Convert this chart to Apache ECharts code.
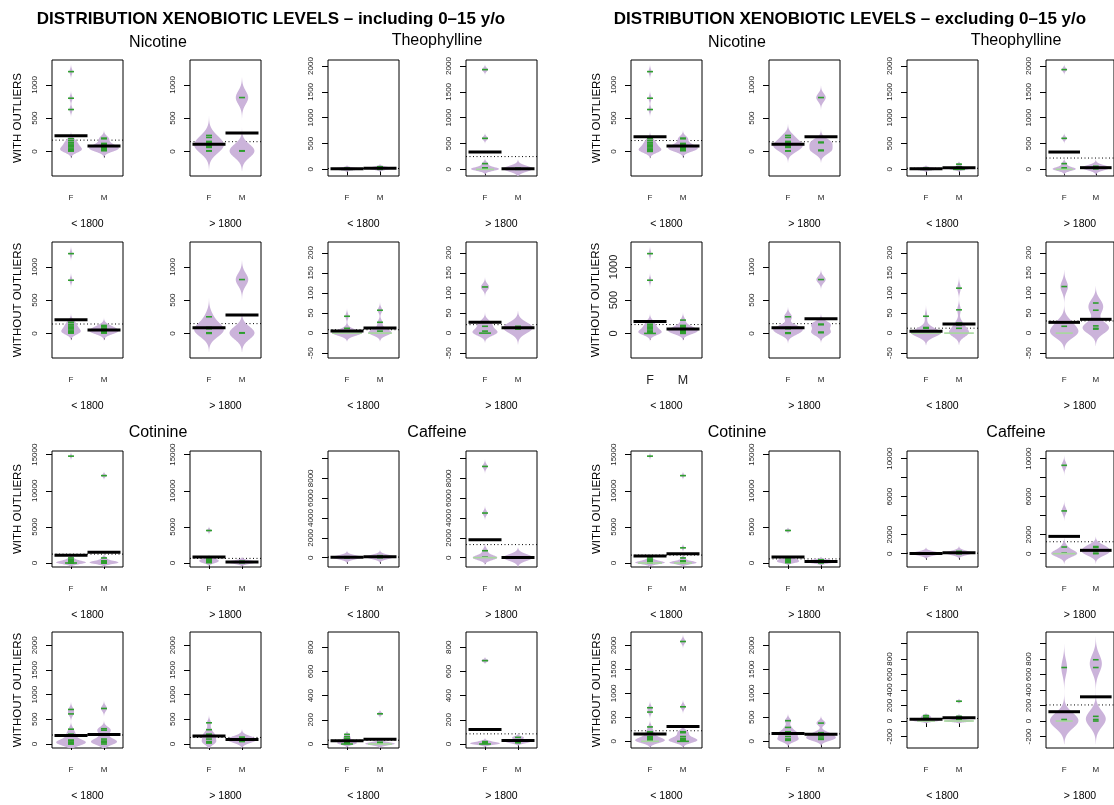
<!DOCTYPE html>
<html><head><meta charset="utf-8">
<script src="https://cdn.jsdelivr.net/npm/echarts@6/dist/echarts.min.js"></script>
<style>html,body{margin:0;padding:0;background:#fff}#c{width:1114px;height:805px}</style>
</head><body><div id="c"></div>
<script>
// ---------- categories / labels ----------
const groups = ['F', 'M'];
const timeLabels = ['< 1800', '> 1800'];
const drugTitles = ['Nicotine', 'Theophylline', 'Cotinine', 'Caffeine'];
const mainTitles = ['DISTRIBUTION XENOBIOTIC LEVELS \u2013 including 0\u201315 y/o', 'DISTRIBUTION XENOBIOTIC LEVELS \u2013 excluding 0\u201315 y/o'];
const rowNames = ['WITH OUTLIERS', 'WITHOUT OUTLIERS', 'WITH OUTLIERS', 'WITHOUT OUTLIERS'];

// ---------- tick values ----------
const ticksNic = [0, 500, 1000];
const ticksThe = [0, 500, 1000, 1500, 2000];
const ticksTheSmall = [-50, 0, 50, 100, 150, 200];
const ticksCot = [0, 5000, 10000, 15000];
const ticksCaf = [0, 2000, 4000, 6000, 8000, 10000];
const labelsCafInc = [0, 2000, 4000, 6000, 8000];
const labelsCafExc = [0, 2000, 6000, 10000];
const ticksCotWo = [0, 500, 1000, 1500, 2000];
const ticksCafWoInc = [0, 200, 400, 600, 800];
const ticksCafWoExc = [-200, 0, 200, 400, 600, 800, 1000];
const labelsCafWoExc = [-200, 0, 200, 400, 600, 800];

// ---------- data: including 0-15 y/o ----------
const inc_nic_with_lt_F = [1200, 800, 630, 190, 160, 130, 110, 90, 70, 50, 30, 20, 15, 10, 5];
const inc_nic_with_lt_M = [200, 190, 120, 100, 80, 60, 50, 40, 30, 20, 10];
const inc_nic_with_gt_F = [240, 210, 150, 130, 100, 90, 80, 60, 10, 5];
const inc_nic_with_gt_M = [810, 10, 5];
const inc_the_with_lt_F = [25, 15, 10, 5, 0, 0];
const inc_the_with_lt_M = [50, 40, 30, 20, 10, 5, 0];
const inc_the_with_gt_F = [1930, 600, 110, 30, 10, 0, 0, 0];
const inc_the_with_gt_M = [25, 10, 0];
const inc_nic_wo_lt_F = [1200, 800, 190, 160, 130, 110, 90, 70, 50, 30, 20, 15, 10, 5];
const inc_nic_wo_lt_M = [120, 100, 80, 60, 50, 40, 30, 20, 10, 5];
const inc_nic_wo_gt_F = [250, 90, 80, 70, 10, 0];
const inc_nic_wo_gt_M = [810, 10, 5];
const inc_the_wo_lt_F = [42, 12, 5, 0, 0, 0, 0, 0, 0, 0, 0];
const inc_the_wo_lt_M = [57, 27, 12, 5, 0, 0, 0, 0];
const inc_the_wo_gt_F = [115, 27, 17, 5, 0, 0];
const inc_the_wo_gt_M = [17, 15, 13, 12, 10];
const inc_cot_with_lt_F = [14800, 700, 500, 400, 300, 200, 150, 100, 50, 30, 20, 15, 10, 5, 0, 0];
const inc_cot_with_lt_M = [12100, 700, 300, 200, 100, 50, 20, 10, 0];
const inc_cot_with_gt_F = [4500, 600, 500, 400, 300, 200, 100, 50];
const inc_cot_with_gt_M = [250, 100, 30];
const inc_caf_with_lt_F = [100, 60, 30, 10, 0];
const inc_caf_with_lt_M = [200, 120, 60, 30, 0];
const inc_caf_with_gt_F = [9200, 4500, 700, 50, 0, 0, 0, 0];
const inc_caf_with_gt_M = [40, 10, 0];
const inc_cot_wo_lt_F = [700, 610, 300, 200, 180, 80, 70, 60, 30, 20, 10, 5, 0];
const inc_cot_wo_lt_M = [720, 310, 280, 200, 100, 60, 50, 30, 0];
const inc_cot_wo_gt_F = [430, 290, 200, 180, 150, 100, 50, 30, 20];
const inc_cot_wo_gt_M = [140, 120, 100, 80, 60, 50];
const inc_caf_wo_lt_F = [80, 60, 45, 30, 20, 15, 10, 5, 0, 0];
const inc_caf_wo_lt_M = [250, 15, 5, 0, 0, 0, 0];
const inc_caf_wo_gt_F = [690, 20, 10, 5, 0, 0];
const inc_caf_wo_gt_M = [55, 30, 20, 10];

// ---------- data: excluding 0-15 y/o ----------
const exc_nic_with_lt_F = [1200, 800, 630, 190, 160, 130, 110, 90, 70, 50, 30, 20, 15, 10, 5, 0];
const exc_nic_with_lt_M = [200, 190, 120, 100, 80, 60, 50, 40, 30, 20, 10];
const exc_nic_with_gt_F = [240, 210, 150, 130, 100, 90, 80, 60, 10, 5];
const exc_nic_with_gt_M = [810, 140, 130, 20, 10];
const exc_the_with_lt_F = [25, 15, 10, 5, 0, 0];
const exc_the_with_lt_M = [100, 50, 30, 20, 10, 0, 0];
const exc_the_with_gt_F = [1930, 600, 110, 30, 10, 0, 0, 0];
const exc_the_with_gt_M = [60, 40, 30, 20, 10];
const exc_nic_wo_lt_F = [1200, 800, 190, 160, 130, 110, 90, 70, 50, 30, 20, 15, 10, 5, 0, 0];
const exc_nic_wo_lt_M = [200, 120, 100, 80, 60, 50, 40, 30, 20, 10, 0];
const exc_nic_wo_gt_F = [250, 90, 80, 70, 10, 0];
const exc_nic_wo_gt_M = [810, 140, 130, 20, 10];
const exc_the_wo_lt_F = [42, 14, 12, 0, 0, 0, 0, 0, 0, 0, 0, 0, 0, 0];
const exc_the_wo_lt_M = [112, 58, 25, 20, 12, 0, 0, 0, 0, 0];
const exc_the_wo_gt_F = [116, 28, 17, 0, 0, 0];
const exc_the_wo_gt_M = [75, 57, 18, 12, 10];
const exc_cot_with_lt_F = [14800, 700, 500, 400, 300, 200, 150, 100, 50, 30, 20, 15, 10, 5, 0, 0, 0, 0];
const exc_cot_with_lt_M = [12100, 2100, 700, 300, 200, 100, 50, 20, 10, 0, 0, 0];
const exc_cot_with_gt_F = [4500, 600, 500, 400, 300, 200, 100, 50];
const exc_cot_with_gt_M = [450, 350, 250, 150, 50, 20];
const exc_caf_with_lt_F = [60, 30, 10, 0, 0];
const exc_caf_with_lt_M = [250, 100, 50, 20, 0];
const exc_caf_with_gt_F = [9300, 4500, 700, 50, 0, 0, 0, 0];
const exc_caf_with_gt_M = [750, 650, 300, 50, 0];
const exc_cot_wo_lt_F = [700, 610, 300, 200, 180, 100, 80, 60, 40, 20, 10, 5, 0, 0, 0];
const exc_cot_wo_lt_M = [2080, 720, 200, 180, 100, 60, 40, 20, 10, 0, 0];
const exc_cot_wo_gt_F = [430, 290, 200, 180, 150, 100, 50, 30, 20];
const exc_cot_wo_gt_M = [380, 180, 130, 90, 50, 40];
const exc_caf_wo_lt_F = [70, 50, 30, 20, 10, 0, 0, 0];
const exc_caf_wo_lt_M = [255, 60, 40, 20, 0, 0, 0, 0, 0];
const exc_caf_wo_gt_F = [690, 20, 10, 0, 0, 0];
const exc_caf_wo_gt_M = [790, 690, 60, 20, 0];

// ---------- layout / style ----------
const FONT = '"Liberation Sans", Arial, Helvetica, sans-serif';
const colLeft = [52, 190, 328, 466, 631, 769, 907, 1046];
const rowTop = [60, 242, 451, 632];
const BOX_W = 71, BOX_H = 116;
const X_MIN = 0.424, X_MAX = 2.576;
const VIOLIN = '#cbb3da';
const GREEN = '#2e9e2e';
const PALE = '#a6d99c';
const LL = 0.18, MAXHALF = 0.45;

// panel definitions (c = column 0..7, r = row 0..3); bw = smoothing bandwidth per bean (style)
const Y_NIC = [-370, 1375], Y_THE = [-129, 2116], Y_THES = [-62, 227], Y_COT = [-554, 15512];
const panels = [
  {c:0,r:0,F:inc_nic_with_lt_F,M:inc_nic_with_lt_M,y:Y_NIC,t:ticksNic,bw:[40,40]},
  {c:1,r:0,F:inc_nic_with_gt_F,M:inc_nic_with_gt_M,y:Y_NIC,t:ticksNic,bw:[100,100]},
  {c:2,r:0,F:inc_the_with_lt_F,M:inc_the_with_lt_M,y:Y_THE,t:ticksThe,bw:[20,20]},
  {c:3,r:0,F:inc_the_with_gt_F,M:inc_the_with_gt_M,y:Y_THE,t:ticksThe,bw:[35,55]},
  {c:0,r:1,F:inc_nic_wo_lt_F,M:inc_nic_wo_lt_M,y:Y_NIC,t:ticksNic,bw:[40,40]},
  {c:1,r:1,F:inc_nic_wo_gt_F,M:inc_nic_wo_gt_M,y:Y_NIC,t:ticksNic,bw:[95,95]},
  {c:2,r:1,F:inc_the_wo_lt_F,M:inc_the_wo_lt_M,y:Y_THES,t:ticksTheSmall,bw:[7,7]},
  {c:3,r:1,F:inc_the_wo_gt_F,M:inc_the_wo_gt_M,y:Y_THES,t:ticksTheSmall,bw:[8,13]},
  {c:0,r:2,F:inc_cot_with_lt_F,M:inc_cot_with_lt_M,y:Y_COT,t:ticksCot,bw:[200,200]},
  {c:1,r:2,F:inc_cot_with_gt_F,M:inc_cot_with_gt_M,y:Y_COT,t:ticksCot,bw:[200,200]},
  {c:2,r:2,F:inc_caf_with_lt_F,M:inc_caf_with_lt_M,y:[-941,10756],t:ticksCaf,l:labelsCafInc,bw:[200,200]},
  {c:3,r:2,F:inc_caf_with_gt_F,M:inc_caf_with_gt_M,y:[-941,10756],t:ticksCaf,l:labelsCafInc,bw:[250,330]},
  {c:0,r:3,F:inc_cot_wo_lt_F,M:inc_cot_wo_lt_M,y:[-81,2270],t:ticksCotWo,bw:[55,55]},
  {c:1,r:3,F:inc_cot_wo_gt_F,M:inc_cot_wo_gt_M,y:[-81,2270],t:ticksCotWo,bw:[55,55]},
  {c:2,r:3,F:inc_caf_wo_lt_F,M:inc_caf_wo_lt_M,y:[-33,927],t:ticksCafWoInc,bw:[12,12]},
  {c:3,r:3,F:inc_caf_wo_gt_F,M:inc_caf_wo_gt_M,y:[-33,927],t:ticksCafWoInc,bw:[10,10]},

  {c:4,r:0,F:exc_nic_with_lt_F,M:exc_nic_with_lt_M,y:Y_NIC,t:ticksNic,bw:[40,40]},
  {c:5,r:0,F:exc_nic_with_gt_F,M:exc_nic_with_gt_M,y:Y_NIC,t:ticksNic,bw:[60,60]},
  {c:6,r:0,F:exc_the_with_lt_F,M:exc_the_with_lt_M,y:Y_THE,t:ticksThe,bw:[20,20]},
  {c:7,r:0,F:exc_the_with_gt_F,M:exc_the_with_gt_M,y:Y_THE,t:ticksThe,bw:[35,45]},
  {c:4,r:1,F:exc_nic_wo_lt_F,M:exc_nic_wo_lt_M,y:Y_NIC,t:ticksNic,bw:[40,40],big:true},
  {c:5,r:1,F:exc_nic_wo_gt_F,M:exc_nic_wo_gt_M,y:Y_NIC,t:ticksNic,bw:[50,50]},
  {c:6,r:1,F:exc_the_wo_lt_F,M:exc_the_wo_lt_M,y:Y_THES,t:ticksTheSmall,bw:[10,10]},
  {c:7,r:1,F:exc_the_wo_gt_F,M:exc_the_wo_gt_M,y:Y_THES,t:ticksTheSmall,bw:[14,14]},
  {c:4,r:2,F:exc_cot_with_lt_F,M:exc_cot_with_lt_M,y:Y_COT,t:ticksCot,bw:[200,200]},
  {c:5,r:2,F:exc_cot_with_gt_F,M:exc_cot_with_gt_M,y:Y_COT,t:ticksCot,bw:[150,150]},
  {c:6,r:2,F:exc_caf_with_lt_F,M:exc_caf_with_lt_M,y:[-1404,10807],t:ticksCaf,l:labelsCafExc,bw:[200,200]},
  {c:7,r:2,F:exc_caf_with_gt_F,M:exc_caf_with_gt_M,y:[-1404,10807],t:ticksCaf,l:labelsCafExc,bw:[350,350]},
  {c:4,r:3,F:exc_cot_wo_lt_F,M:exc_cot_wo_lt_M,y:[-139,2278],t:ticksCotWo,bw:[50,50]},
  {c:5,r:3,F:exc_cot_wo_gt_F,M:exc_cot_wo_gt_M,y:[-139,2278],t:ticksCotWo,bw:[50,50]},
  {c:6,r:3,F:exc_caf_wo_lt_F,M:exc_caf_wo_lt_M,y:[-348,1148],t:ticksCafWoExc,l:labelsCafWoExc,bw:[12,12]},
  {c:7,r:3,F:exc_caf_wo_gt_F,M:exc_caf_wo_gt_M,y:[-348,1148],t:ticksCafWoExc,l:labelsCafWoExc,bw:[100,100]}
];

// ---------- bean statistics ----------
function kde(vals, bw) {
  const lo = Math.min(...vals) - 3 * bw, hi = Math.max(...vals) + 3 * bw, n = 320;
  const out = [];
  for (let i = 0; i <= n; i++) {
    const y = lo + (hi - lo) * i / n;
    let s = 0;
    for (const v of vals) s += Math.exp(-0.5 * ((y - v) / bw) ** 2);
    out.push([y, s / (vals.length * bw * Math.sqrt(2 * Math.PI))]);
  }
  return out;
}
function counts(vals) {
  const m = new Map();
  for (const v of vals) m.set(v, (m.get(v) || 0) + 1);
  return [...m.entries()];
}
const mean = a => a.reduce((s, v) => s + v, 0) / a.length;

panels.forEach(p => {
  p.beans = [p.F, p.M].map((vals, g) => ({ dens: kde(vals, p.bw[g]), counts: counts(vals), mean: mean(vals) }));
  p.overall = mean(p.F.concat(p.M));
  const maxD = Math.max(...p.beans.map(b => Math.max(...b.dens.map(d => d[1]))));
  p.scale = MAXHALF / maxD;
});

function makeRender(p) {
  return function (params, api) {
    const i = params.dataIndex;
    const ch = [];
    const seg = (x1, y1, x2, y2) => { const a = api.coord([x1, y1]), b = api.coord([x2, y2]); return {x1:a[0], y1:a[1], x2:b[0], y2:b[1]}; };
    if (i === 0) {
      ch.push({type:'line', shape: seg(X_MIN, p.overall, X_MAX, p.overall), style:{stroke:'#000', lineWidth:1, lineDash:[1,2.5]}});
      return {type:'group', children: ch};
    }
    const g = i - 1, xc = g + 1, bean = p.beans[g];
    const pts = [];
    for (const [y, d] of bean.dens) pts.push(api.coord([xc + d * p.scale, y]));
    for (let k = bean.dens.length - 1; k >= 0; k--) { const [y, d] = bean.dens[k]; pts.push(api.coord([xc - d * p.scale, y])); }
    ch.push({type:'polygon', shape:{points: pts}, style:{fill: VIOLIN}});
    for (const [v, c] of bean.counts) {
      const half = Math.min(LL * c, 0.9) / 2;
      ch.push({type:'line', shape: seg(xc - half, v, xc + half, v), style:{stroke: c >= 3 ? PALE : GREEN, lineWidth: 1.6}});
    }
    ch.push({type:'line', shape: seg(xc - 0.5, bean.mean, xc + 0.5, bean.mean), style:{stroke:'#000', lineWidth:3}});
    return {type:'group', children: ch};
  };
}

// ---------- build option ----------
const grid = [], xAxis = [], yAxis = [], series = [];
panels.forEach((p, k) => {
  const first = (p.c === 0 || p.c === 4);
  const tickFont = p.big ? 11 : 8;
  const catFont = p.big ? 12.5 : 8;
  grid.push({left: colLeft[p.c], top: rowTop[p.r], width: BOX_W, height: BOX_H, show: true, borderColor: '#000', borderWidth: 1, backgroundColor: 'transparent'});
  xAxis.push({
    type: 'value', gridIndex: k, min: X_MIN, max: X_MAX,
    name: timeLabels[p.c % 2], nameLocation: 'middle', nameGap: 43,
    nameTextStyle: {fontFamily: FONT, fontSize: 10.5, color: '#000'},
    axisLine: {show: false}, splitLine: {show: false},
    axisTick: {show: true, inside: false, length: 6, customValues: [1, 2], lineStyle: {color: '#000', width: 1}},
    axisLabel: {show: true, customValues: [1, 2], margin: p.big ? 16 : 18, fontFamily: FONT, fontSize: catFont, color: '#222',
      formatter: v => groups[Math.round(v) - 1]}
  });
  yAxis.push({
    type: 'value', gridIndex: k, min: p.y[0], max: p.y[1],
    name: first ? rowNames[p.r] : '', nameLocation: 'middle', nameRotate: 90, nameGap: p.big ? 29 : 28,
    nameTextStyle: {fontFamily: FONT, fontSize: 11.5, color: '#000'},
    axisLine: {show: false}, splitLine: {show: false},
    axisTick: {show: true, inside: false, length: 6, customValues: p.t, lineStyle: {color: '#000', width: 1}},
    axisLabel: {show: true, customValues: p.l || p.t, rotate: 90, margin: p.big ? 12 : 13, hideOverlap: false,
      fontFamily: FONT, fontSize: tickFont, color: '#222', formatter: v => String(v)}
  });
  series.push({
    type: 'custom', xAxisIndex: k, yAxisIndex: k, coordinateSystem: 'cartesian2d', clip: true,
    silent: true, animation: false,
    data: [[1.5, 0], [1.5, 0], [1.5, 0]], encode: {x: 0, y: 1},
    renderItem: makeRender(p)
  });
});

const OFFSET = 579;
const graphic = [];
const txt = (x, y, text, font) => ({type: 'text', x, y, style: {text, font, fill: '#000', textAlign: 'center', textVerticalAlign: 'middle'}});
[0, 1].forEach(h => {
  graphic.push(txt(271 + h * OFFSET, 19, mainTitles[h], 'bold 17px ' + FONT));
  graphic.push(txt(158 + h * OFFSET, 43, drugTitles[0], '16px ' + FONT));
  graphic.push(txt(437 + h * OFFSET, 41, drugTitles[1], '16px ' + FONT));
  graphic.push(txt(158 + h * OFFSET, 433, drugTitles[2], '16px ' + FONT));
  graphic.push(txt(437 + h * OFFSET, 433, drugTitles[3], '16px ' + FONT));
});

const chart = echarts.init(document.getElementById('c'), null, {renderer: 'canvas'});
chart.setOption({backgroundColor: '#fff', animation: false, grid, xAxis, yAxis, series, graphic});
</script>
</body></html>
